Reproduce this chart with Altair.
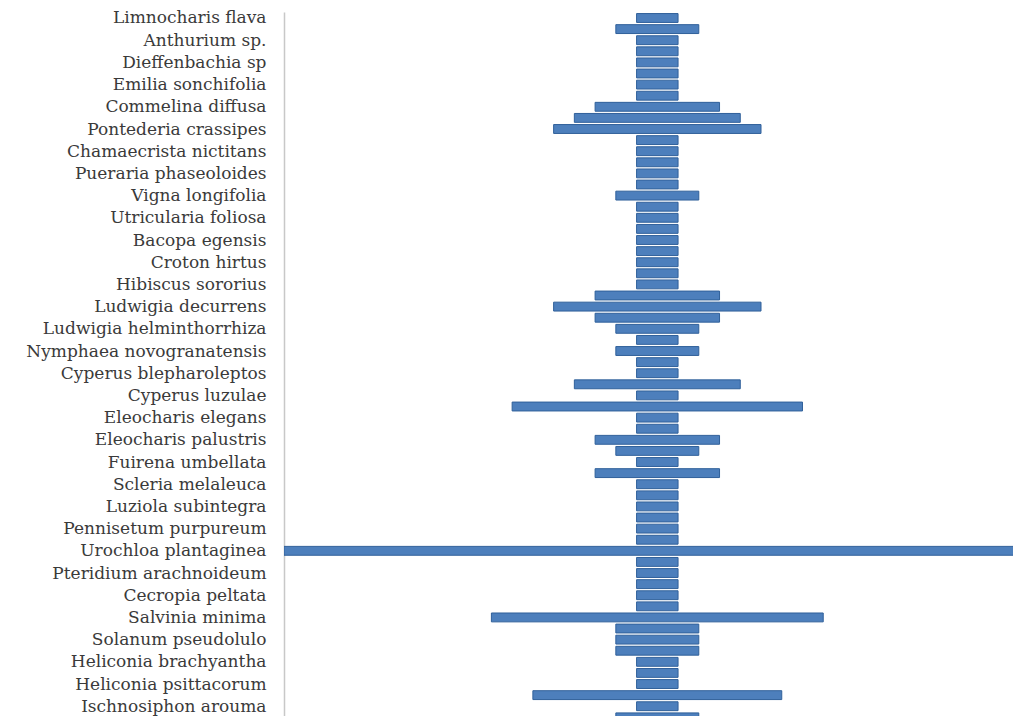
import json
import altair as alt
import pandas as pd

NB = "\u00a0"  # trailing space kept as in the original labels

species = [
    "Limnocharis flava" + NB, "Anthurium sp.", "Dieffenbachia sp",
    "Emilia sonchifolia" + NB, "Commelina diffusa" + NB, "Pontederia crassipes",
    "Chamaecrista nictitans" + NB, "Pueraria phaseoloides" + NB, "Vigna longifolia" + NB,
    "Utricularia foliosa" + NB, "Bacopa egensis" + NB, "Croton hirtus",
    "Hibiscus sororius" + NB, "Ludwigia decurrens" + NB, "Ludwigia helminthorrhiza" + NB,
    "Nymphaea novogranatensis", "Cyperus blepharoleptos" + NB, "Cyperus luzulae" + NB,
    "Eleocharis elegans" + NB, "Eleocharis palustris" + NB, "Fuirena umbellata" + NB,
    "Scleria melaleuca" + NB, "Luziola subintegra", "Pennisetum purpureum" + NB,
    "Urochloa plantaginea" + NB, "Pteridium arachnoideum", "Cecropia peltata" + NB,
    "Salvinia minima" + NB, "Solanum pseudolulo" + NB, "Heliconia brachyantha" + NB,
    "Heliconia psittacorum" + NB, "Ischnosiphon arouma" + NB,
]

values = [
    1, 2, 1, 1, 1, 1, 1, 1, 3, 4,
    5, 1, 1, 1, 1, 1, 2, 1, 1, 1,
    1, 1, 1, 1, 1, 3, 5, 3, 2, 1,
    2, 1, 1, 4, 1, 7, 1, 1, 3, 2,
    1, 3, 1, 1, 1, 1, 1, 1, 18, 1,
    1, 1, 1, 1, 8, 2, 2, 2, 1, 1,
    1, 6, 1, 2,
]

df = pd.DataFrame({"row": list(range(len(values))), "value": values})

label_expr = (
    "datum.value % 2 === 0 ? "
    + json.dumps(species, ensure_ascii=False)
    + "[datum.value / 2] : ''"
)

chart = (
    alt.Chart(df)
    .transform_calculate(
        x0="-datum.value / 2",
        x1="datum.value / 2",
        y0="datum.row - 0.4",
        y1="datum.row + 0.4",
    )
    .mark_bar(fill="#4D7FBC", stroke="#30609A", strokeWidth=1, clip=True)
    .encode(
        y=alt.Y(
            "y0:Q",
            scale=alt.Scale(domain=[-0.54, 62.88], reverse=True, nice=False, zero=False),
            axis=alt.Axis(
                title=None,
                values=list(range(0, 2 * len(species), 2)),
                labelExpr=label_expr,
                ticks=False,
                tickSize=0,
                labelPadding=18,
                labelFont="DejaVu Serif",
                labelFontSize=17,
                labelColor="#3A3A3A",
                labelLimit=500,
                labelOverlap=False,
                labelFlush=False,
                labelBound=False,
                domainColor="#C8C8C8",
                domainWidth=1.5,
                grid=False,
            ),
        ),
        y2="y1:Q",
        x=alt.X("x0:Q", scale=alt.Scale(domain=[-9, 8.575], nice=False, zero=False), axis=None),
        x2="x1:Q",
    )
    .properties(
        width=729,
        height=704,
        padding={"left": 276, "top": 4, "right": 0, "bottom": 0},
        autosize="none",
    )
    .configure_view(stroke=None)
)

chart.save("out.html", embed_options={"renderer": "svg", "actions": False})
